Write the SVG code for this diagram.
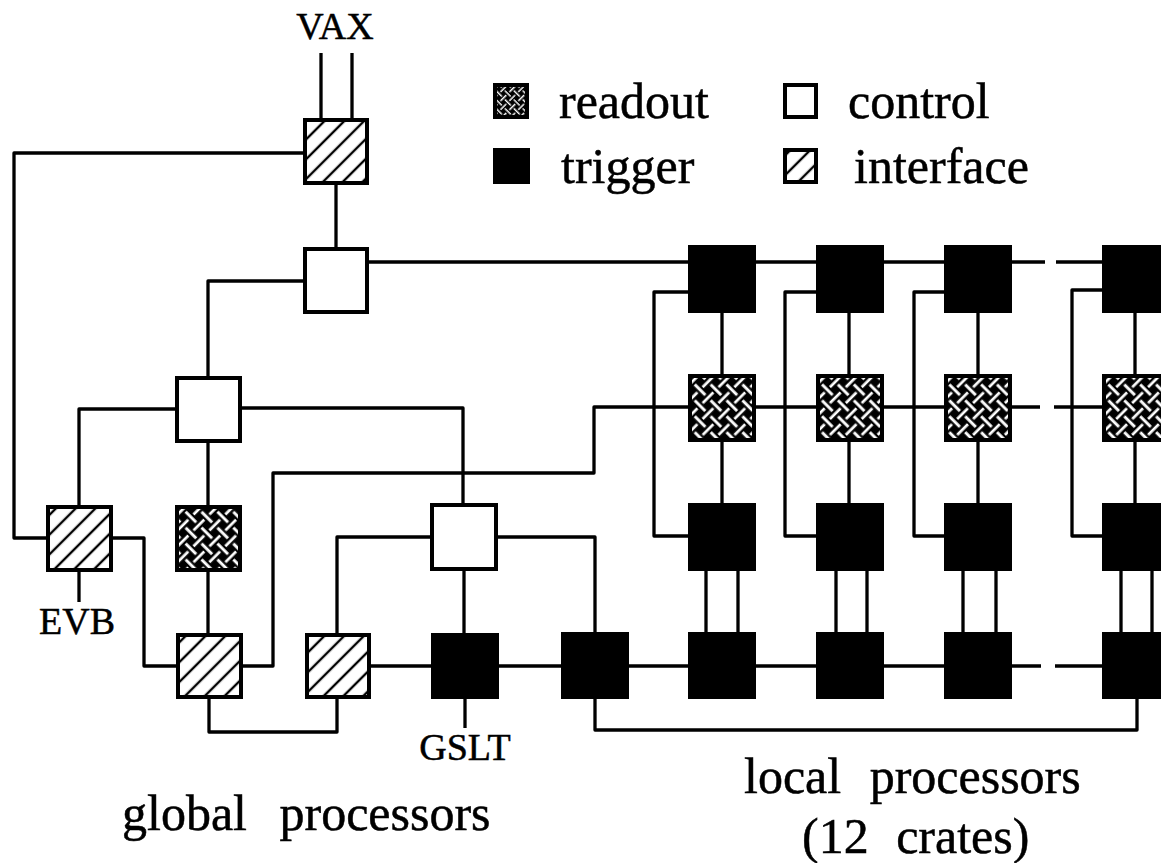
<svg xmlns="http://www.w3.org/2000/svg" width="1161" height="863" viewBox="0 0 1161 863">
<defs>
<pattern id="hatch" patternUnits="userSpaceOnUse" width="14" height="14" patternTransform="rotate(45)">
<rect width="14" height="14" fill="#fff"/>
<line x1="7" y1="-2" x2="7" y2="16" stroke="#000" stroke-width="2.4"/>
</pattern>
<pattern id="weave" patternUnits="userSpaceOnUse" width="18" height="18" patternTransform="rotate(45) scale(1.25)">
<rect width="18" height="18" fill="#000"/>
<g stroke="#fff" stroke-width="2.2">
<path d="M16.5 4.5H20M-2 4.5H10.5"/>
<path d="M7.5 13.5H20M-2 13.5H1.5"/>
<path d="M4.5 7.5V20M4.5 -2V1.5"/>
<path d="M13.5 -2V10.5M13.5 16.5V20"/>
</g>
</pattern>
<pattern id="weave-s" href="#weave" patternTransform="rotate(45) scale(0.7)"/>
<style>
.box{stroke:#000;stroke-width:4}
.ctl{fill:#fff}
.trg{fill:#000}
.ifc{fill:url(#hatch)}
.rdo{fill:url(#weave)}
.w{fill:none;stroke:#000;stroke-width:3.3;stroke-linejoin:round}
.t{font-family:"Liberation Serif","Times New Roman",serif;fill:#000;stroke:#000;stroke-width:0.5}
.sm{font-size:38px}
.lg{font-size:50px}
</style>
</defs>
<rect width="1161" height="863" fill="#fff"/>

<g id="connectors" class="w">
<path d="M321 53V118M352 53V118"/>
<path d="M303 153H14V538H46"/>
<path d="M336 184V247"/>
<path d="M369 262H688M756 262H816M883 262H944M1011 262H1045M1056 262H1102"/>
<path d="M303 281H208V376"/>
<path d="M175 409H79V505"/>
<path d="M241 408H463V503"/>
<path d="M208 442V505"/>
<path d="M208 571V633"/>
<path d="M79 571V602"/>
<path d="M112 538H144V666H176"/>
<path d="M242 666H273V473H594V407H688M756 407H816M883 407H944M1011 407H1040M1054 407H1102"/>
<path d="M209 698V732H337V698"/>
<path d="M337 633V537H430"/>
<path d="M497 537H595V632"/>
<path d="M464 570V633"/>
<path d="M370 666H431M498 666H561M628 666H688M756 666H816M883 666H944M1011 666H1041M1055 666H1102"/>
<path d="M465 698V728"/>
<path d="M595 698V730H1137V698"/>
<path d="M688 292H654V536H688M816 292H785V536H816M944 292H914V536H944M1102 290H1072V536H1102"/>
<path d="M722 313V374M722 442V503M849 313V374M849 442V503M978 313V374M978 442V503M1135 313V374M1135 442V503"/>
<path d="M706 570V632M738 570V632M836 570V632M867 570V632M963 570V632M996 570V632M1121 570V632M1152 570V632"/>
</g>

<g id="vax-interface"><rect class="box ifc" x="305" y="120" width="62" height="63"/></g>
<g id="control-1"><rect class="box ctl" x="305" y="249" width="62" height="63"/></g>
<g id="control-2"><rect class="box ctl" x="177" y="378" width="63" height="63"/></g>
<g id="evb-interface"><rect class="box ifc" x="48" y="507" width="63" height="63"/></g>
<g id="global-readout"><rect class="box rdo" x="177" y="507" width="63" height="63"/></g>
<g id="control-3"><rect class="box ctl" x="432" y="505" width="64" height="64"/></g>
<g id="interface-1"><rect class="box ifc" x="178" y="635" width="63" height="62"/></g>
<g id="interface-2"><rect class="box ifc" x="307" y="635" width="62" height="62"/></g>
<g id="gslt"><rect class="box trg" x="433" y="635" width="64" height="62"/></g>
<g id="global-trigger"><rect class="box trg" x="563" y="634" width="64" height="63"/></g>

<g id="col1-top"><rect class="box trg" x="690" y="247" width="64" height="64"/></g>
<g id="col1-readout"><rect class="box rdo" x="690" y="376" width="64" height="64"/></g>
<g id="col1-mid"><rect class="box trg" x="690" y="505" width="64" height="64"/></g>
<g id="col1-bottom"><rect class="box trg" x="690" y="634" width="64" height="63"/></g>
<g id="col2-top"><rect class="box trg" x="818" y="247" width="64" height="64"/></g>
<g id="col2-readout"><rect class="box rdo" x="818" y="376" width="64" height="64"/></g>
<g id="col2-mid"><rect class="box trg" x="818" y="505" width="64" height="64"/></g>
<g id="col2-bottom"><rect class="box trg" x="818" y="634" width="64" height="63"/></g>
<g id="col3-top"><rect class="box trg" x="946" y="247" width="64" height="64"/></g>
<g id="col3-readout"><rect class="box rdo" x="946" y="376" width="64" height="64"/></g>
<g id="col3-mid"><rect class="box trg" x="946" y="505" width="64" height="64"/></g>
<g id="col3-bottom"><rect class="box trg" x="946" y="634" width="64" height="63"/></g>
<g id="col4-top"><rect class="box trg" x="1104" y="247" width="64" height="64"/></g>
<g id="col4-readout"><rect class="box rdo" x="1104" y="376" width="64" height="64"/></g>
<g id="col4-mid"><rect class="box trg" x="1104" y="505" width="64" height="64"/></g>
<g id="col4-bottom"><rect class="box trg" x="1104" y="634" width="63" height="63"/></g>

<g id="legend">
<rect class="box" fill="url(#weave-s)" x="495" y="85" width="32" height="32"/>
<text class="t lg" x="559" y="118" font-size="52">readout</text>
<rect class="box trg" x="495" y="150" width="33" height="32"/>
<text class="t lg" x="561" y="183">trigger</text>
<rect class="box ctl" x="785" y="85" width="31" height="32"/>
<text class="t lg" x="848" y="118">control</text>
<rect class="box ifc" x="785" y="150" width="31" height="32"/>
<text class="t lg" x="854" y="183" font-size="52">interface</text>
</g>

<g id="labels">
<text class="t sm" x="335" y="39" text-anchor="middle">VAX</text>
<text class="t sm" x="77" y="634" text-anchor="middle">EVB</text>
<text class="t sm" x="465" y="760" text-anchor="middle">GSLT</text>
<text class="t lg" x="122" y="830" word-spacing="20">global processors</text>
<text class="t lg" x="744" y="793" word-spacing="16">local processors</text>
<text class="t lg" x="802" y="853" word-spacing="15">(12 crates)</text>
</g>
</svg>
